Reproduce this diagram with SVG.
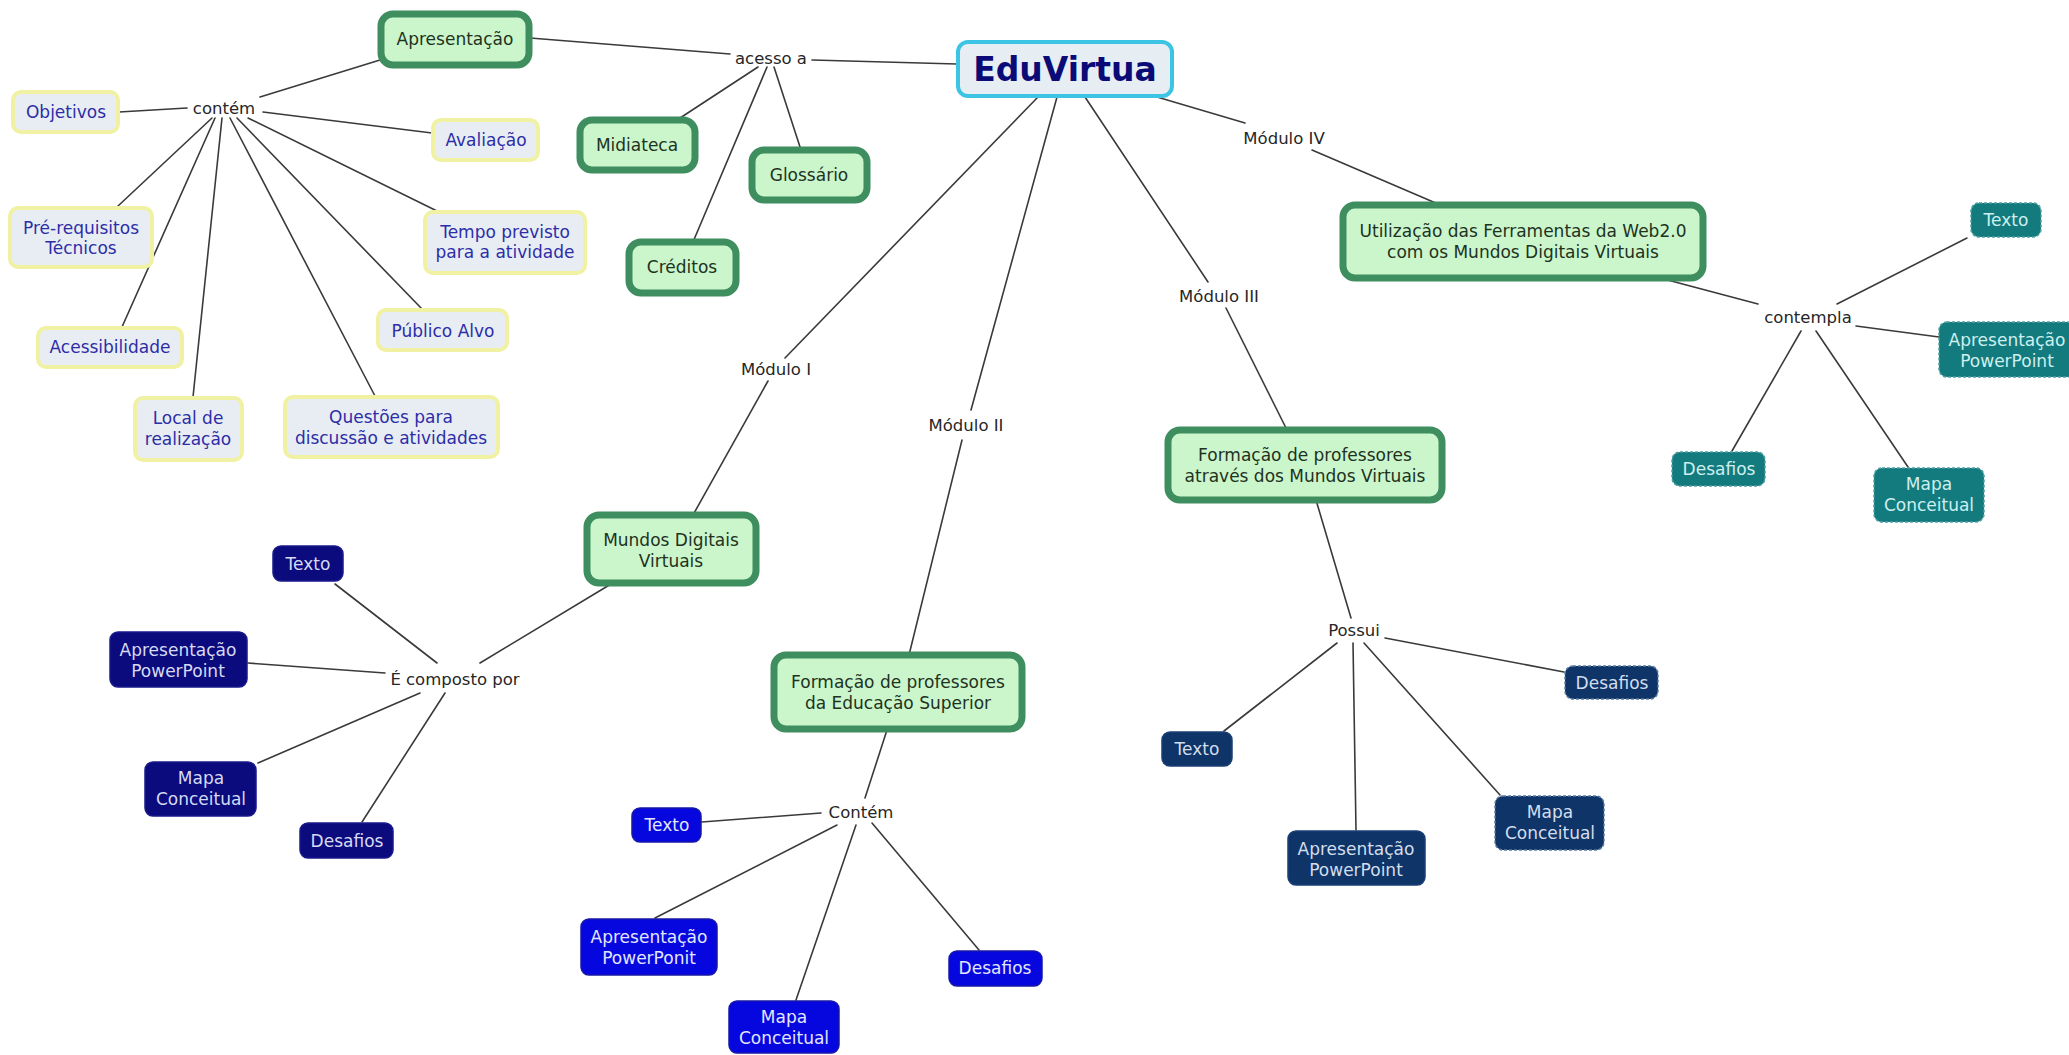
<svg xmlns="http://www.w3.org/2000/svg" width="2069" height="1055" viewBox="0 0 2069 1055">
  <style>
    text { font-family: "DejaVu Sans", Verdana, sans-serif; font-size: 17px; text-anchor: middle; dominant-baseline: central; }
    .link { fill: #262626; font-size: 16.5px; }
    .edges line { stroke: #3a3a3a; stroke-width: 1.6; stroke-linecap: round; }
    .info rect { fill: #e8edf3; stroke: #f1f1a4; stroke-width: 4; }
    .info text { fill: #2d2da8; }
    .main rect { fill: #cbf6cb; stroke: #3e8e5f; stroke-width: 7; }
    .main text { fill: #1e321e; }
    .root rect { fill: #e6eef4; stroke: #3cc4e4; stroke-width: 4; }
    .root text { fill: #0b0b78; font-weight: bold; font-size: 33px; }
    .navy rect { fill: #0b0b7d; stroke: #1a1a8c; stroke-width: 1.5; }
    .navy text { fill: #d6daf2; }
    .blue rect { fill: #0606df; stroke: #1818a8; stroke-width: 1.5; }
    .blue text { fill: #e2e6ff; }
    .slate rect { fill: #0f3468; stroke: #1b3f74; stroke-width: 1.5; }
    .slate rect.dash { stroke: #5a7aa0; stroke-dasharray: 3 2; }
    .slate text { fill: #d3deec; }
    .teal rect { fill: #137b7d; stroke: #4f9fa2; stroke-width: 1.5; stroke-dasharray: 3 2; }
    .teal text { fill: #cdeff0; }
  </style>
  <rect width="2069" height="1055" fill="#ffffff"/>

  <!-- connectors -->
  <g id="connectors" class="edges">
    <line x1="260" y1="97" x2="380" y2="60"/>
    <line x1="187" y1="108" x2="119" y2="112"/>
    <line x1="263" y1="112" x2="432" y2="133"/>
    <line x1="212" y1="118" x2="118" y2="206"/>
    <line x1="215" y1="118" x2="122" y2="327"/>
    <line x1="222" y1="118" x2="193" y2="397"/>
    <line x1="230" y1="118" x2="375" y2="396"/>
    <line x1="237" y1="118" x2="422" y2="309"/>
    <line x1="248" y1="118" x2="437" y2="211"/>
    <line x1="530" y1="38" x2="730" y2="54"/>
    <line x1="812" y1="60" x2="957" y2="64"/>
    <line x1="758" y1="67" x2="677" y2="120"/>
    <line x1="767" y1="67" x2="693" y2="242"/>
    <line x1="774" y1="67" x2="801" y2="150"/>
    <line x1="1038" y1="97" x2="785" y2="358"/>
    <line x1="768" y1="381" x2="693" y2="515"/>
    <line x1="1057" y1="97" x2="971" y2="410"/>
    <line x1="962" y1="440" x2="909" y2="655"/>
    <line x1="1085" y1="97" x2="1208" y2="282"/>
    <line x1="1226" y1="308" x2="1287" y2="430"/>
    <line x1="1157" y1="97" x2="1245" y2="123"/>
    <line x1="1312" y1="150" x2="1438" y2="204"/>
    <line x1="1660" y1="278" x2="1758" y2="304"/>
    <line x1="1837" y1="304" x2="1967" y2="238"/>
    <line x1="1856" y1="326" x2="1939" y2="337"/>
    <line x1="1801" y1="331" x2="1732" y2="451"/>
    <line x1="1816" y1="331" x2="1908" y2="467"/>
    <line x1="611" y1="584" x2="480" y2="663"/>
    <line x1="437" y1="663" x2="335" y2="584"/>
    <line x1="385" y1="673" x2="248" y2="663"/>
    <line x1="420" y1="693" x2="258" y2="763"/>
    <line x1="445" y1="693" x2="362" y2="822"/>
    <line x1="887" y1="730" x2="865" y2="798"/>
    <line x1="821" y1="813" x2="702" y2="822"/>
    <line x1="837" y1="825" x2="655" y2="918"/>
    <line x1="856" y1="825" x2="796" y2="1000"/>
    <line x1="872" y1="823" x2="979" y2="950"/>
    <line x1="1316" y1="500" x2="1351" y2="618"/>
    <line x1="1385" y1="638" x2="1564" y2="672"/>
    <line x1="1337" y1="643" x2="1224" y2="731"/>
    <line x1="1353" y1="643" x2="1356" y2="830"/>
    <line x1="1364" y1="643" x2="1500" y2="795"/>
  </g>

  <!-- linking phrases -->
  <g id="lbl-contem"><text class="link" x="224" y="108">contém</text></g>
  <g id="lbl-acesso"><text class="link" x="771" y="58">acesso a</text></g>
  <g id="lbl-mod1"><text class="link" x="776" y="369">Módulo I</text></g>
  <g id="lbl-mod2"><text class="link" x="966" y="425">Módulo II</text></g>
  <g id="lbl-mod3"><text class="link" x="1219" y="296">Módulo III</text></g>
  <g id="lbl-mod4"><text class="link" x="1284" y="138">Módulo IV</text></g>
  <g id="lbl-contempla"><text class="link" x="1808" y="317">contempla</text></g>
  <g id="lbl-composto"><text class="link" x="455" y="679">É composto por</text></g>
  <g id="lbl-contem2"><text class="link" x="861" y="812">Contém</text></g>
  <g id="lbl-possui"><text class="link" x="1354" y="630">Possui</text></g>

  <!-- root -->
  <g id="eduvirtua" class="root">
    <rect x="958" y="42" width="214" height="54" rx="10"/>
    <text x="1065" y="69">EduVirtua</text>
  </g>

  <!-- main concepts -->
  <g id="apresentacao" class="main">
    <rect x="381" y="14" width="148" height="51" rx="12"/>
    <text x="455" y="39">Apresentação</text>
  </g>
  <g id="midiateca" class="main">
    <rect x="580" y="120" width="115" height="50" rx="12"/>
    <text x="637" y="145">Midiateca</text>
  </g>
  <g id="glossario" class="main">
    <rect x="752" y="150" width="115" height="50" rx="12"/>
    <text x="809" y="175">Glossário</text>
  </g>
  <g id="creditos" class="main">
    <rect x="629" y="242" width="107" height="51" rx="12"/>
    <text x="682" y="267">Créditos</text>
  </g>
  <g id="mundos" class="main">
    <rect x="587" y="515" width="169" height="68" rx="12"/>
    <text x="671" y="540">Mundos Digitais</text>
    <text x="671" y="561">Virtuais</text>
  </g>
  <g id="formacao-es" class="main">
    <rect x="774" y="655" width="248" height="74" rx="12"/>
    <text x="898" y="682">Formação de professores</text>
    <text x="898" y="703">da Educação Superior</text>
  </g>
  <g id="formacao-mv" class="main">
    <rect x="1168" y="430" width="274" height="70" rx="12"/>
    <text x="1305" y="455">Formação de professores</text>
    <text x="1305" y="476">através dos Mundos Virtuais</text>
  </g>
  <g id="utilizacao" class="main">
    <rect x="1343" y="205" width="360" height="73" rx="12"/>
    <text x="1523" y="231">Utilização das Ferramentas da Web2.0</text>
    <text x="1523" y="252">com os Mundos Digitais Virtuais</text>
  </g>

  <!-- presentation contents -->
  <g id="objetivos" class="info">
    <rect x="13" y="92" width="105" height="40" rx="8"/>
    <text x="66" y="112">Objetivos</text>
  </g>
  <g id="avaliacao" class="info">
    <rect x="433" y="120" width="105" height="40" rx="8"/>
    <text x="486" y="140">Avaliação</text>
  </g>
  <g id="prerequisitos" class="info">
    <rect x="10" y="208" width="142" height="59" rx="8"/>
    <text x="81" y="228">Pré-requisitos</text>
    <text x="81" y="248">Técnicos</text>
  </g>
  <g id="tempo" class="info">
    <rect x="425" y="212" width="160" height="61" rx="8"/>
    <text x="505" y="232">Tempo previsto</text>
    <text x="505" y="252">para a atividade</text>
  </g>
  <g id="publico" class="info">
    <rect x="378" y="310" width="129" height="40" rx="8"/>
    <text x="443" y="331">Público Alvo</text>
  </g>
  <g id="acessibilidade" class="info">
    <rect x="38" y="328" width="144" height="39" rx="8"/>
    <text x="110" y="347">Acessibilidade</text>
  </g>
  <g id="local" class="info">
    <rect x="135" y="398" width="107" height="62" rx="8"/>
    <text x="188" y="418">Local de</text>
    <text x="188" y="439">realização</text>
  </g>
  <g id="questoes" class="info">
    <rect x="285" y="397" width="213" height="60" rx="8"/>
    <text x="391" y="417">Questões para</text>
    <text x="391" y="438">discussão e atividades</text>
  </g>

  <!-- module I resources -->
  <g id="m1-texto" class="navy">
    <rect x="273" y="546" width="70" height="35" rx="8"/>
    <text x="308" y="564">Texto</text>
  </g>
  <g id="m1-apresentacao" class="navy">
    <rect x="110" y="632" width="137" height="55" rx="8"/>
    <text x="178" y="650">Apresentação</text>
    <text x="178" y="671">PowerPoint</text>
  </g>
  <g id="m1-mapa" class="navy">
    <rect x="145" y="762" width="111" height="54" rx="8"/>
    <text x="201" y="778">Mapa</text>
    <text x="201" y="799">Conceitual</text>
  </g>
  <g id="m1-desafios" class="navy">
    <rect x="300" y="823" width="93" height="35" rx="8"/>
    <text x="347" y="841">Desafios</text>
  </g>

  <!-- module II resources -->
  <g id="m2-texto" class="blue">
    <rect x="632" y="808" width="69" height="34" rx="8"/>
    <text x="667" y="825">Texto</text>
  </g>
  <g id="m2-apresentacao" class="blue">
    <rect x="581" y="919" width="136" height="56" rx="8"/>
    <text x="649" y="937">Apresentação</text>
    <text x="649" y="958">PowerPonit</text>
  </g>
  <g id="m2-mapa" class="blue">
    <rect x="729" y="1001" width="110" height="52" rx="8"/>
    <text x="784" y="1017">Mapa</text>
    <text x="784" y="1038">Conceitual</text>
  </g>
  <g id="m2-desafios" class="blue">
    <rect x="949" y="951" width="93" height="35" rx="8"/>
    <text x="995" y="968">Desafios</text>
  </g>

  <!-- module III resources -->
  <g id="m3-desafios" class="slate">
    <rect class="dash" x="1565" y="666" width="93" height="33" rx="8"/>
    <text x="1612" y="683">Desafios</text>
  </g>
  <g id="m3-texto" class="slate">
    <rect x="1162" y="732" width="70" height="34" rx="8"/>
    <text x="1197" y="749">Texto</text>
  </g>
  <g id="m3-apresentacao" class="slate">
    <rect x="1288" y="831" width="137" height="54" rx="8"/>
    <text x="1356" y="849">Apresentação</text>
    <text x="1356" y="870">PowerPoint</text>
  </g>
  <g id="m3-mapa" class="slate">
    <rect class="dash" x="1495" y="796" width="109" height="54" rx="8"/>
    <text x="1550" y="812">Mapa</text>
    <text x="1550" y="833">Conceitual</text>
  </g>

  <!-- module IV resources -->
  <g id="m4-texto" class="teal">
    <rect x="1971" y="203" width="70" height="34" rx="8"/>
    <text x="2006" y="220">Texto</text>
  </g>
  <g id="m4-apresentacao" class="teal">
    <rect x="1939" y="322" width="136" height="55" rx="8"/>
    <text x="2007" y="340">Apresentação</text>
    <text x="2007" y="361">PowerPoint</text>
  </g>
  <g id="m4-desafios" class="teal">
    <rect x="1672" y="452" width="93" height="34" rx="8"/>
    <text x="1719" y="469">Desafios</text>
  </g>
  <g id="m4-mapa" class="teal">
    <rect x="1874" y="468" width="110" height="54" rx="8"/>
    <text x="1929" y="484">Mapa</text>
    <text x="1929" y="505">Conceitual</text>
  </g>
</svg>
